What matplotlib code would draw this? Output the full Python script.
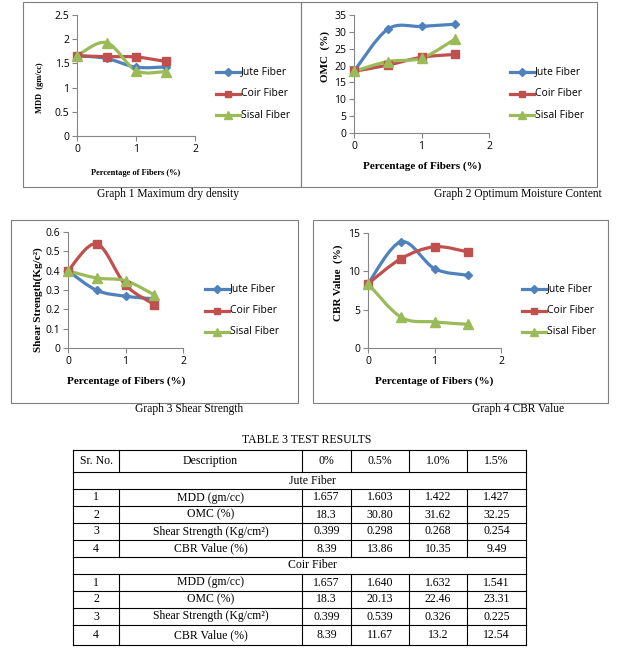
import numpy as np
import matplotlib.pyplot as plt
from matplotlib.path import Path
from matplotlib.patches import PathPatch, Rectangle

# fiber content (%)
fibers = [0, 0.5, 1.0, 1.5]
series_names = ["Jute Fiber", "Coir Fiber", "Sisal Fiber"]

# graph values (sisal)
mdd_jute = [1.657, 1.603, 1.422, 1.427]
mdd_coir = [1.657, 1.640, 1.632, 1.541]
mdd_sisal = [1.657, 1.93, 1.35, 1.33]

omc_jute = [18.3, 30.80, 31.62, 32.25]
omc_coir = [18.3, 20.13, 22.46, 23.31]
omc_sisal = [18.3, 21.2, 22.2, 27.9]

shear_jute = [0.399, 0.298, 0.268, 0.254]
shear_coir = [0.399, 0.539, 0.326, 0.225]
shear_sisal = [0.399, 0.362, 0.348, 0.275]

cbr_jute = [8.39, 13.86, 10.35, 9.49]
cbr_coir = [8.39, 11.67, 13.2, 12.54]
cbr_sisal = [8.39, 4.0, 3.4, 3.1]

# table text
table_title = "TABLE 3 TEST RESULTS"
table_header = ["Sr. No.", "Description", "0%", "0.5%", "1.0%", "1.5%"]
table_desc = ["MDD (gm/cc)", "OMC (%)", "Shear Strength (Kg/cm\u00b2)", "CBR Value (%)"]
jute_rows = [["1.657", "1.603", "1.422", "1.427"],
             ["18.3", "30.80", "31.62", "32.25"],
             ["0.399", "0.298", "0.268", "0.254"],
             ["8.39", "13.86", "10.35", "9.49"]]
coir_rows = [["1.657", "1.640", "1.632", "1.541"],
             ["18.3", "20.13", "22.46", "23.31"],
             ["0.399", "0.539", "0.326", "0.225"],
             ["8.39", "11.67", "13.2", "12.54"]]

colors = ["#4F81BD", "#C0504D", "#9BBB59"]
markers = ["D", "s", "^"]
msizes = [4.5, 6, 6.5]

W, H = 617, 653
fig = plt.figure(figsize=(W / 100, H / 100), dpi=100)

bg = fig.add_axes([0, 0, 1, 1], zorder=0)
bg.set_xlim(0, W)
bg.set_ylim(H, 0)
bg.axis("off")

serif = "Liberation Serif"
sans = "Open Sans"


def smooth_path(xs, ys, t=1 / 6):
    # excel style smoothed line as bezier segments
    n = len(xs)
    px = [xs[0]] + list(xs) + [xs[-1]]
    py = [ys[0]] + list(ys) + [ys[-1]]
    verts = [(xs[0], ys[0])]
    codes = [Path.MOVETO]
    for i in range(n - 1):
        j = i + 1
        c1 = (px[j] + (px[j + 1] - px[j - 1]) * t, py[j] + (py[j + 1] - py[j - 1]) * t)
        c2 = (px[j + 1] - (px[j + 2] - px[j]) * t, py[j + 1] - (py[j + 2] - py[j]) * t)
        verts += [c1, c2, (px[j + 1], py[j + 1])]
        codes += [Path.CURVE4] * 3
    return Path(verts, codes)


def make_chart(box, axpx, ymax, ystep, data, ylabel, ylab_pos, xlab_pos, lab_size, lab_bold,
               legend_x, legend_y, caption, cap_pos):
    bx0, by0, bx1, by1 = box
    bg.add_patch(Rectangle((bx0, by0), bx1 - bx0, by1 - by0, fill=False,
                           edgecolor="#7f7f7f", lw=0.8))
    bg.text(cap_pos[0], cap_pos[1], caption, family=serif, fontsize=8.3,
            ha="center", va="center")
    x0, y0, x1, y1 = axpx  # pixel left, top, right, bottom
    ax = fig.add_axes([x0 / W, 1 - y1 / H, (x1 - x0) / W, (y1 - y0) / H], zorder=2)
    ax.patch.set_alpha(0)
    ax.set_xlim(0, 2)
    ax.set_ylim(0, ymax)
    ax.set_xticks([0, 1, 2])
    ax.set_yticks(np.arange(0, ymax + ystep / 2, ystep))
    ax.set_yticklabels(["%g" % v for v in np.arange(0, ymax + ystep / 2, ystep)])
    for s in ["top", "right"]:
        ax.spines[s].set_visible(False)
    for s in ["left", "bottom"]:
        ax.spines[s].set_color("#868686")
        ax.spines[s].set_linewidth(0.8)
    ax.tick_params(direction="out", length=3.5, width=0.8, color="#868686",
                   labelsize=7.5, pad=2)
    for lab in ax.get_xticklabels() + ax.get_yticklabels():
        lab.set_family(sans)
    for k, ys in enumerate(data):
        ax.add_patch(PathPatch(smooth_path(fibers, ys), fill=False, edgecolor=colors[k],
                               lw=2.3, clip_on=False, zorder=3))
        ax.plot(fibers, ys, ls="none", marker=markers[k], ms=msizes[k], color=colors[k],
                clip_on=False, zorder=4)
    wt = "bold" if lab_bold else "normal"
    bg.text(ylab_pos[0], ylab_pos[1], ylabel, family=serif, fontsize=lab_size, weight=wt,
            rotation=90, ha="center", va="center")
    bg.text(xlab_pos[0], xlab_pos[1], "Percentage of Fibers (%)", family=serif,
            fontsize=lab_size, weight=wt, ha="center", va="center")
    # legend
    for k in range(3):
        yy = legend_y + k * 21.5
        bg.plot([legend_x, legend_x + 24], [yy, yy], color=colors[k], lw=2.3, zorder=3)
        bg.plot([legend_x + 12], [yy], marker=markers[k], ms=msizes[k] * 0.8,
                color=colors[k], zorder=4)
        bg.text(legend_x + 25, yy, series_names[k], family=sans, fontsize=7.5,
                ha="left", va="center")


make_chart((23, 2, 301, 187), (77, 15, 195, 136), 2.5, 0.5,
           [mdd_jute, mdd_coir, mdd_sisal], "MDD  (gm/cc)", (40, 88), (136, 173), 6, True,
           216, 72, "Graph 1 Maximum dry density", (168, 194))
make_chart((301, 2, 597, 187), (354, 15, 489, 133), 35, 5,
           [omc_jute, omc_coir, omc_sisal], "OMC  (%)", (325, 57), (422, 166), 8, True,
           510, 72, "Graph 2 Optimum Moisture Content", (518, 194))
make_chart((11, 220, 298, 403), (68, 232, 183, 348), 0.6, 0.1,
           [shear_jute, shear_coir, shear_sisal], "Shear Strength(Kg/c\u00b2)", (38, 300),
           (126, 381), 8, True,
           205, 289, "Graph 3 Shear Strength", (189, 409))
make_chart((313, 220, 608, 403), (368, 233, 501, 348), 15, 5,
           [cbr_jute, cbr_coir, cbr_sisal], "CBR Value  (%)", (338, 283), (434, 381), 8, True,
           522, 289, "Graph 4 CBR Value", (518, 409))

# table
bg.text(307, 440, table_title, family=serif, fontsize=8.5, ha="center", va="center")
col_x = [73, 119, 302, 351, 409, 467, 526]
row_y = [450, 472, 489, 506, 523, 540, 557, 574, 591, 608, 625, 645]
for y in row_y:
    bg.plot([col_x[0], col_x[-1]], [y, y], color="black", lw=0.8)
section_rows = [1, 6]
for r in range(len(row_y) - 1):
    ya, yb = row_y[r], row_y[r + 1]
    if r in section_rows:
        xs = [col_x[0], col_x[-1]]
    else:
        xs = col_x
    for x in xs:
        bg.plot([x, x], [ya, yb], color="black", lw=0.8)

cells = [table_header, ["Jute Fiber"]]
for i in range(4):
    cells.append([str(i + 1), table_desc[i]] + jute_rows[i])
cells.append(["Coir Fiber"])
for i in range(4):
    cells.append([str(i + 1), table_desc[i]] + coir_rows[i])

for r, row in enumerate(cells):
    yc = (row_y[r] + row_y[r + 1]) / 2
    if len(row) == 1:
        bg.text(312, yc, row[0], family=serif, fontsize=8.5, ha="center", va="center")
        continue
    for c, txt in enumerate(row):
        xc = (col_x[c] + col_x[c + 1]) / 2
        bg.text(xc, yc, txt, family=serif, fontsize=8.5, ha="center", va="center")

fig.savefig("out.png", dpi=100)
